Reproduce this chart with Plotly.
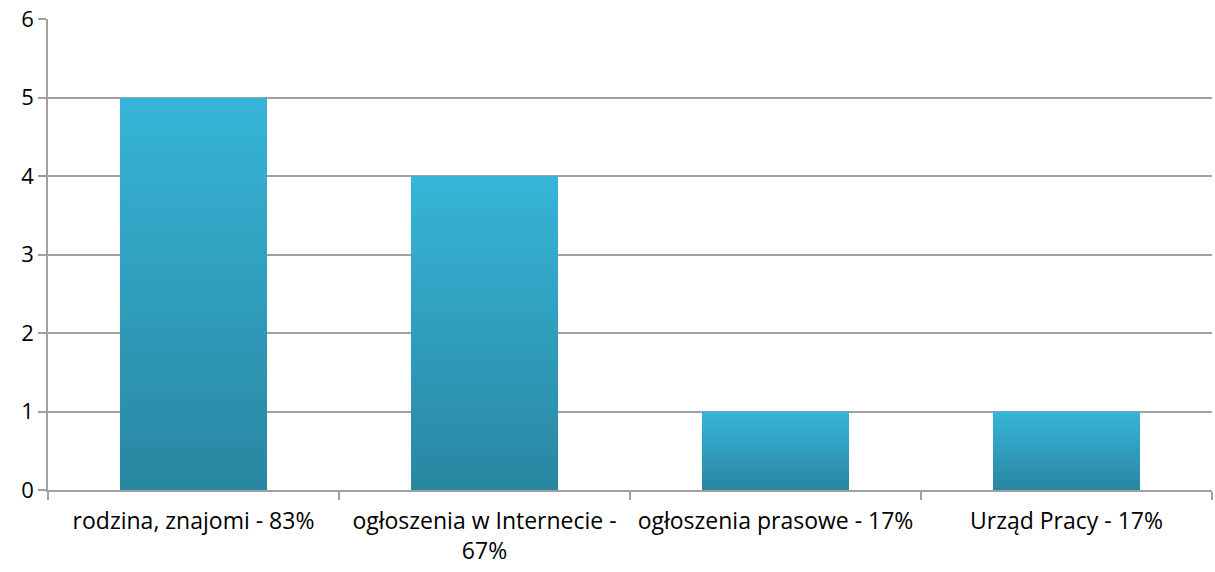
import plotly.graph_objects as go

categories = ["rodzina, znajomi - 83%", "ogłoszenia w Internecie -<br>67%",
              "ogłoszenia prasowe - 17%", "Urząd Pracy - 17%"]
values = [5, 4, 1, 1]
y_ticks = [0, 1, 2, 3, 4, 5, 6]

top_rgb = (54, 180, 215)
bot_rgb = (41, 135, 162)
N = 40

fig = go.Figure()
for k in range(N):
    f = 1 - k / N
    t = k / (N - 1)
    c = tuple(round(top_rgb[i] + (bot_rgb[i] - top_rgb[i]) * t) for i in range(3))
    fig.add_trace(go.Bar(
        x=categories, y=[v * f for v in values],
        marker=dict(color="rgb(%d,%d,%d)" % c, line=dict(width=0)),
        showlegend=False, hoverinfo="skip" if k else "x+y",
    ))

fig.update_layout(
    barmode="overlay", bargap=0.495,
    width=1215, height=572,
    margin=dict(l=48, r=3, t=19, b=82),
    paper_bgcolor="white", plot_bgcolor="white",
    font=dict(family="Open Sans, Lato, sans-serif", size=23, color="#000000"),
)
fig.update_xaxes(
    type="category", showline=True, linecolor="#a0a0a0", linewidth=1.5,
    ticks="outside", tickson="boundaries", ticklen=8, tickcolor="#a0a0a0", tickwidth=1.5,
    showgrid=False, tickfont=dict(size=23), automargin=False, ticklabelstandoff=10,
)
fig.update_yaxes(
    range=[0, 6.002], tickvals=y_ticks, showline=True, linecolor="#a0a0a0", linewidth=1.5,
    ticks="outside", ticklen=8, tickcolor="#a0a0a0", tickwidth=1.5,
    showgrid=True, gridcolor="#a0a0a0", gridwidth=1.5, zeroline=False,
    tickfont=dict(size=22), automargin=False,
)
fig.write_html("out.html", config={"displayModeBar": False},
               post_script="document.body.style.margin='0';document.body.style.overflow='hidden';")
